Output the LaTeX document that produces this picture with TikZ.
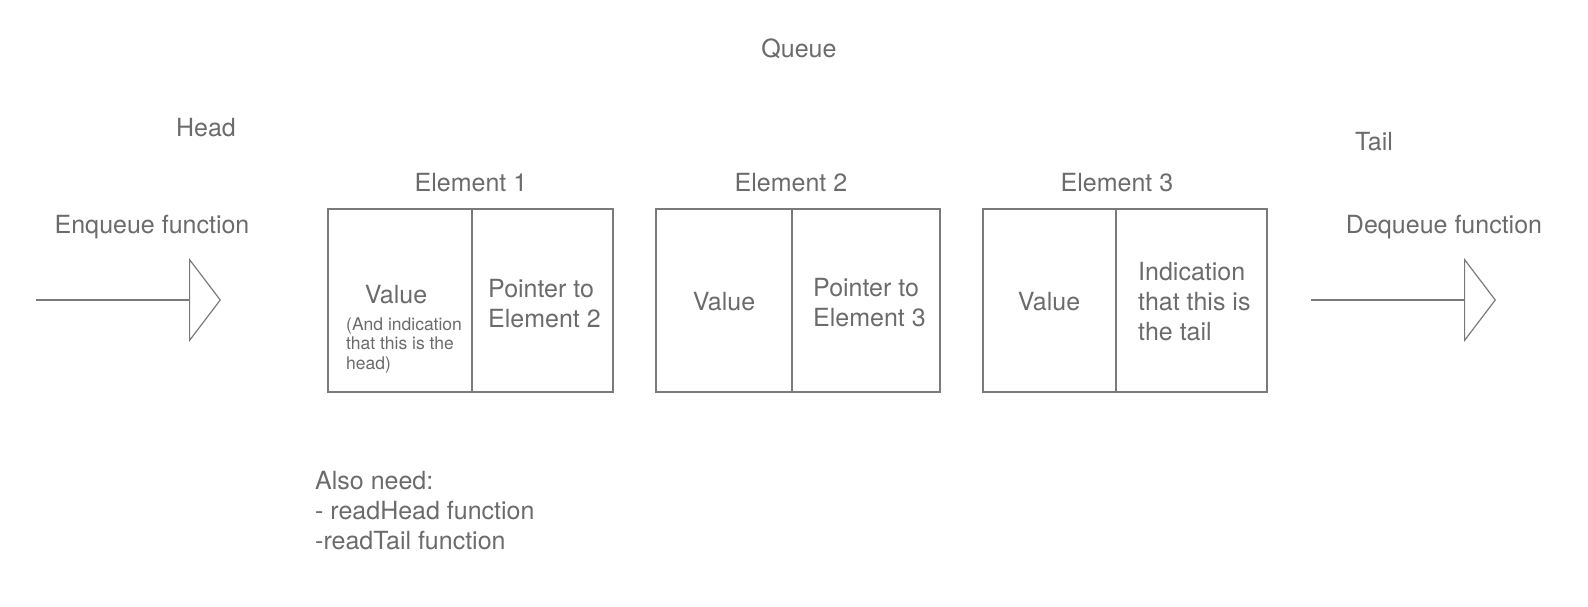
\documentclass[tikz,border=0pt]{standalone}
\usepackage{fontspec}
\setmainfont{TeX Gyre Heros}
\usetikzlibrary{positioning}
\usetikzlibrary{arrows.meta}

\definecolor{labelgray}{HTML}{6B6B6B}
\definecolor{linegray}{HTML}{7A7A7A}

\begin{document}
\begin{tikzpicture}[x=1pt, y=-1pt,
  every node/.style={text=labelgray, font=\fontsize{25}{30}\selectfont, inner sep=0pt},
  cell/.style={draw=linegray, line width=1.2pt, minimum height=183pt, outer sep=0pt, anchor=north west},
  lines/.style={align=left, anchor=base west},
  small/.style={font=\fontsize{17.5}{19.5}\selectfont},
  bigarrow/.style={draw=linegray, line width=1.2pt, -{Triangle[open, length=32pt, width=84pt]}}]
\useasboundingbox (0,0) rectangle (1588,606);

% titles
\node[anchor=base] (queue) at (799,57) {Queue};
\node[anchor=base] (head) at (206,136) {Head};
\node[anchor=base] (tail) at (1374,150) {Tail};
\node[anchor=base] (enqueue) at (152,233) {Enqueue function};
\node[anchor=base] (dequeue) at (1444,233) {Dequeue function};

% element 1 (multi-line texts sit on their last baseline)
\node[cell, minimum width=144pt] (val1) at (328,209) {};
\node[cell, minimum width=141pt, right=0pt of val1] (ptr1) {};
\node[anchor=base] (el1) at (471,191) {Element 1};
\node[anchor=base] (value1) at (396,303) {Value};
\node[lines, small] (headnote) at (346,369) {(And indication\\that this is the\\head)};
\node[lines] (ptrtext1) at (488,327) {Pointer to\\Element 2};

% element 2
\node[cell, minimum width=136pt] (val2) at (656,209) {};
\node[cell, minimum width=148pt, right=0pt of val2] (ptr2) {};
\node[anchor=base] (el2) at (791,191) {Element 2};
\node[anchor=base] (value2) at (724,310) {Value};
\node[lines] (ptrtext2) at (813,326) {Pointer to\\Element 3};

% element 3
\node[cell, minimum width=133pt] (val3) at (983,209) {};
\node[cell, minimum width=151pt, right=0pt of val3] (ptr3) {};
\node[anchor=base] (el3) at (1117,191) {Element 3};
\node[anchor=base] (value3) at (1049,310) {Value};
\node[lines] (tailnote) at (1138,340) {Indication\\that this is\\the tail};

% enqueue / dequeue arrows
\coordinate (enqstart) at (36,300);
\coordinate (enqend) at (221,300);
\coordinate (deqstart) at (1311,300);
\coordinate (deqend) at (1496,300);
\draw[bigarrow] (enqstart) -- (enqend);
\draw[bigarrow] (deqstart) -- (deqend);

\node[lines] (alsoneed) at (315,549) {Also need:\\- readHead function\\-readTail function};
\end{tikzpicture}
\end{document}
